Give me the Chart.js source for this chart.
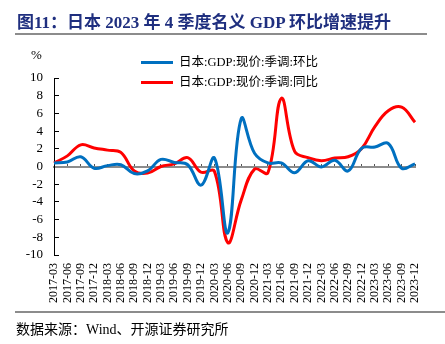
<!DOCTYPE html>
<html>
<head>
<meta charset="utf-8">
<script src="https://cdn.jsdelivr.net/npm/chart.js@4.4.0/dist/chart.umd.min.js"></script>
<style>
  html, body { margin: 0; padding: 0; background: #fff; }
  #wrap { position: relative; width: 445px; height: 344px; overflow: hidden;
          font-family: "Liberation Serif", "Noto Sans CJK SC", serif; }
  #chart { position: absolute; left: 0; top: 0; }
  .title { position: absolute; left: 17px; top: 8px; font-size: 17px; font-weight: bold;
           color: #1f2f7f; white-space: nowrap; }
  .rule { position: absolute; height: 2px; background: #8c8c8c; }
  .unit { position: absolute; left: 31px; top: 47px; font-size: 13px; color: #000; }
  .legend { position: absolute; left: 141px; font-size: 12.5px; color: #000; white-space: nowrap; }
  .legend span.swatch { display: inline-block; width: 32px; height: 3px; vertical-align: middle;
                        margin-right: 6px; position: relative; top: -1px; }
  .source { position: absolute; left: 16px; top: 318px; font-size: 14px; color: #000; white-space: nowrap; }
</style>
</head>
<body>
<div id="wrap">
  <canvas id="chart" width="445" height="344"></canvas>
  <div class="title">图11：日本 2023 年 4 季度名义 GDP 环比增速提升</div>
  <div class="rule" style="left:15px; top:33px; width:412px;"></div>
  <div class="unit">%</div>
  <div class="legend" style="top:51px;"><span class="swatch" style="background:#0070c0"></span>日本:GDP:现价:季调:环比</div>
  <div class="legend" style="top:71px;"><span class="swatch" style="background:#ff0000"></span>日本:GDP:现价:季调:同比</div>
  <div class="rule" style="left:15px; top:311px; width:430px;"></div>
  <div class="source">数据来源：Wind、开源证券研究所</div>
</div>
<script>
// quarters on the x axis
const quarters = [
    '2017-03', '2017-06', '2017-09', '2017-12',
    '2018-03', '2018-06', '2018-09', '2018-12',
    '2019-03', '2019-06', '2019-09', '2019-12',
    '2020-03', '2020-06', '2020-09', '2020-12',
    '2021-03', '2021-06', '2021-09', '2021-12',
    '2022-03', '2022-06', '2022-09', '2022-12',
    '2023-03', '2023-06', '2023-09', '2023-12'
];

// nominal GDP, seasonally adjusted, % change q/q
const qoqGrowth = [
    0.4, 0.5, 1.1, -0.2,
    0.1, 0.2, -0.8, -0.5,
    0.8, 0.45, 0.2, -2.1,
    0.95, -7.5, 5.4, 1.5,
    0.4, 0.4, -0.7, 0.65,
    -0.05, 0.7, -0.5, 2.05,
    2.2, 2.6, -0.2, 0.3
];

// nominal GDP, seasonally adjusted, % change y/y
const yoyGrowth = [
    0.4, 1.2, 2.45, 2.1,
    1.85, 1.6, -0.5, -0.75,
    0.0, 0.3, 1.0, -0.65,
    -0.55, -8.6, -3.8, -0.3,
    -0.7, 7.7, 1.7, 1.0,
    0.65, 0.95, 1.1, 2.0,
    4.5, 6.3, 6.7, 5.0
];

const yTicks = [-10, -8, -6, -4, -2, 0, 2, 4, 6, 8, 10];

const serif = 'Liberation Serif';

const ctx = document.getElementById('chart').getContext('2d');

new Chart(ctx, {
    type: 'line',
    data: {
        labels: quarters,
        datasets: [
            {
                label: '日本:GDP:现价:季调:环比',
                data: qoqGrowth,
                borderColor: '#0070c0',
                borderWidth: 3,
                pointRadius: 0,
                tension: 0.4,
                fill: false
            },
            {
                label: '日本:GDP:现价:季调:同比',
                data: yoyGrowth,
                borderColor: '#ff0000',
                borderWidth: 3,
                pointRadius: 0,
                tension: 0.4,
                fill: false
            }
        ]
    },
    options: {
        responsive: false,
        animation: false,
        layout: { padding: { top: 78, right: 30, left: 0, bottom: 0 } },
        plugins: {
            legend: { display: false },
            tooltip: { enabled: false }
        },
        scales: {
            x: {
                type: 'category',
                position: 'bottom',
                grid: { display: false, drawTicks: false },
                border: { display: false },
                ticks: {
                    autoSkip: false,
                    maxRotation: 90,
                    minRotation: 90,
                    padding: 8,
                    color: '#000',
                    font: { family: serif, size: 12 }
                },
                afterFit: function(scale) { scale.height = 89; }
            },
            // zero line with small upward ticks
            xZero: {
                type: 'category',
                position: { y: 0 },
                ticks: { display: false },
                grid: {
                    display: true,
                    drawOnChartArea: false,
                    drawTicks: true,
                    tickLength: -4,
                    color: '#555',
                    lineWidth: 1
                },
                border: { display: true, color: '#8c8c8c', width: 2 }
            },
            y: {
                min: -10,
                max: 10,
                afterBuildTicks: function(scale) {
                    scale.ticks = yTicks.map(v => ({ value: v }));
                },
                grid: {
                    display: true,
                    drawOnChartArea: false,
                    drawTicks: true,
                    tickLength: -5,
                    color: '#000',
                    lineWidth: 1
                },
                border: { display: true, color: '#000', width: 1 },
                ticks: {
                    autoSkip: false,
                    padding: 16,
                    color: '#000',
                    font: { family: serif, size: 13 }
                },
                afterFit: function(scale) { scale.width = 54; }
            }
        }
    }
});
</script>
</body>
</html>
